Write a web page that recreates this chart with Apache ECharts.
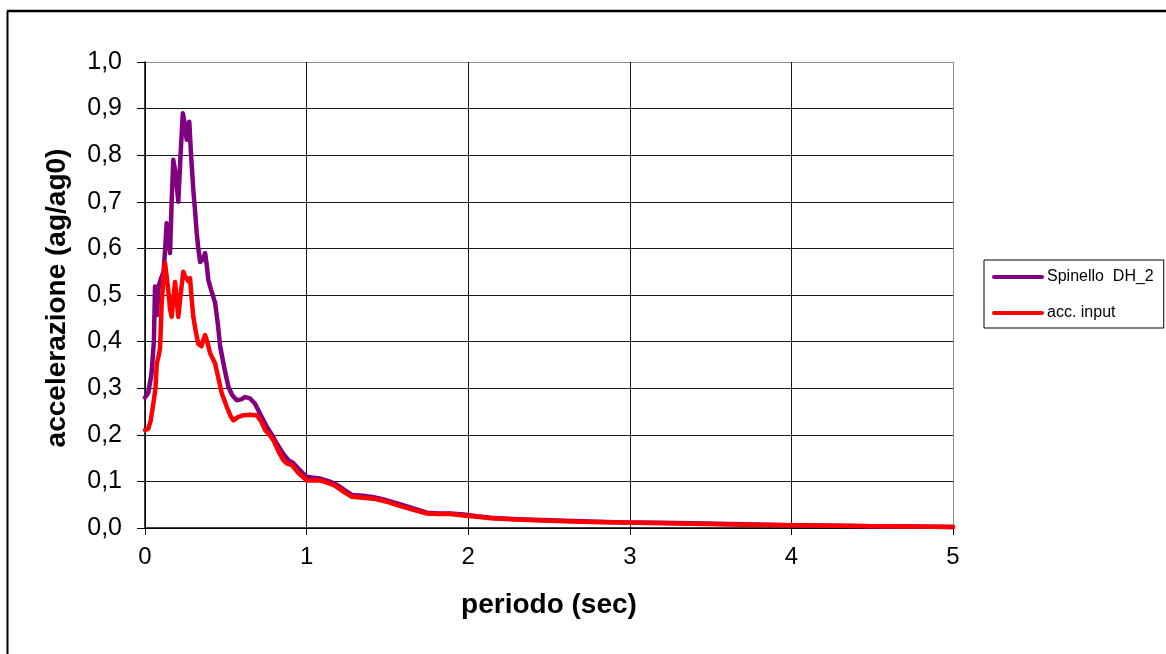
<!DOCTYPE html>
<html>
<head>
<meta charset="utf-8">
<script src="https://cdn.jsdelivr.net/npm/echarts@6/dist/echarts.min.js"></script>
<style>
html,body{margin:0;padding:0;background:#fff;}
#chart{width:1166px;height:654px;}
</style>
</head>
<body>
<div id="chart"></div>
<script>
// Data
const seriesNames = ['Spinello  DH_2', 'acc. input'];
const xTicks = [0, 1, 2, 3, 4, 5];
const yTicks = [0, 0.1, 0.2, 0.3, 0.4, 0.5, 0.6, 0.7, 0.8, 0.9, 1.0];

const periodSpinello = [0, 0.02, 0.04, 0.055, 0.062, 0.068, 0.074, 0.085, 0.103, 0.115, 0.125, 0.134, 0.145, 0.155, 0.165, 0.175, 0.19, 0.206, 0.22, 0.234, 0.245, 0.258, 0.266, 0.274, 0.285, 0.299, 0.31, 0.32, 0.33, 0.341, 0.355, 0.372, 0.382, 0.392, 0.41, 0.434, 0.45, 0.465, 0.49, 0.516, 0.54, 0.568, 0.595, 0.62, 0.65, 0.68, 0.72, 0.754, 0.785, 0.816, 0.85, 0.888, 0.915, 0.94, 0.97, 1.0, 1.04, 1.084, 1.14, 1.19, 1.24, 1.28, 1.35, 1.415, 1.49, 1.56, 1.65, 1.745, 1.82, 1.89, 1.97, 2.055, 2.14, 2.3, 2.55, 2.75, 2.96, 3.2, 3.38, 3.7, 4.0, 4.3, 4.5, 4.75, 5.0];
const accSpinello = [0.28, 0.29, 0.33, 0.40, 0.518, 0.50, 0.457, 0.52, 0.539, 0.55, 0.60, 0.654, 0.62, 0.59, 0.70, 0.79, 0.76, 0.70, 0.80, 0.89, 0.87, 0.833, 0.85, 0.872, 0.80, 0.725, 0.68, 0.633, 0.60, 0.571, 0.575, 0.59, 0.565, 0.532, 0.51, 0.483, 0.44, 0.39, 0.345, 0.303, 0.285, 0.274, 0.276, 0.281, 0.278, 0.267, 0.24, 0.217, 0.2, 0.181, 0.162, 0.145, 0.14, 0.131, 0.12, 0.11, 0.108, 0.106, 0.1, 0.092, 0.08, 0.071, 0.069, 0.066, 0.06, 0.053, 0.043, 0.033, 0.031, 0.031, 0.029, 0.025, 0.022, 0.019, 0.016, 0.014, 0.012, 0.011, 0.01, 0.008, 0.006, 0.005, 0.004, 0.003, 0.002];

const periodInput = [0, 0.02, 0.035, 0.052, 0.065, 0.073, 0.085, 0.093, 0.103, 0.115, 0.124, 0.134, 0.144, 0.155, 0.165, 0.175, 0.186, 0.196, 0.206, 0.22, 0.237, 0.248, 0.258, 0.268, 0.279, 0.289, 0.299, 0.315, 0.33, 0.35, 0.362, 0.372, 0.385, 0.403, 0.434, 0.455, 0.475, 0.506, 0.53, 0.547, 0.575, 0.609, 0.65, 0.692, 0.72, 0.744, 0.77, 0.795, 0.825, 0.857, 0.88, 0.909, 0.95, 1.0, 1.04, 1.084, 1.13, 1.17, 1.22, 1.28, 1.35, 1.415, 1.49, 1.56, 1.65, 1.745, 1.82, 1.89, 1.97, 2.055, 2.14, 2.3, 2.55, 2.75, 2.96, 3.2, 3.38, 3.7, 4.0, 4.3, 4.5, 4.75, 5.0];
const accInput = [0.21, 0.213, 0.23, 0.268, 0.30, 0.353, 0.37, 0.385, 0.48, 0.54, 0.568, 0.54, 0.51, 0.47, 0.453, 0.49, 0.528, 0.49, 0.453, 0.50, 0.55, 0.54, 0.539, 0.53, 0.536, 0.49, 0.453, 0.42, 0.395, 0.39, 0.405, 0.414, 0.40, 0.375, 0.353, 0.32, 0.289, 0.26, 0.24, 0.231, 0.238, 0.242, 0.243, 0.242, 0.228, 0.21, 0.2, 0.188, 0.165, 0.145, 0.138, 0.135, 0.118, 0.102, 0.102, 0.102, 0.097, 0.092, 0.08, 0.067, 0.065, 0.063, 0.057, 0.049, 0.04, 0.031, 0.03, 0.03, 0.027, 0.024, 0.021, 0.018, 0.015, 0.013, 0.012, 0.01, 0.009, 0.007, 0.006, 0.005, 0.004, 0.003, 0.002];

const pair = (xs, ys) => xs.map((x, i) => [x, ys[i]]);
const FONT = "'Liberation Sans', Arial, sans-serif";

const chart = echarts.init(document.getElementById('chart'), null, {renderer: 'canvas'});
const ySplitColors = yTicks.map((v, i) => i === yTicks.length - 1 ? '#8c8c8c' : '#1a1a1a');
const xSplitColors = xTicks.map((v, i) => i === xTicks.length - 1 ? '#8c8c8c' : '#1a1a1a');

chart.setOption({
  animation: false,
  backgroundColor: '#ffffff',
  grid: {left: 145, right: 213, top: 62, bottom: 126, containLabel: false},
  xAxis: {
    type: 'value', min: 0, max: 5, interval: 1,
    name: 'periodo (sec)', nameLocation: 'middle', nameGap: 63,
    nameTextStyle: {fontFamily: FONT, fontSize: 28, fontWeight: 'bold', color: '#000'},
    axisLine: {show: true, lineStyle: {color: '#000', width: 1.5}},
    axisTick: {show: true, inside: false, length: 7, lineStyle: {color: '#000'}},
    axisLabel: {fontFamily: FONT, fontSize: 24, color: '#000', margin: 17, formatter: v => String(v)},
    splitLine: {show: true, lineStyle: {color: xSplitColors, width: 1}}
  },
  yAxis: {
    type: 'value', min: 0, max: 1, interval: 0.1,
    axisLine: {show: true, lineStyle: {color: '#000', width: 1.5}},
    axisTick: {show: true, inside: false, length: 8, lineStyle: {color: '#000'}},
    axisLabel: {fontFamily: FONT, fontSize: 25, color: '#000', margin: 23,
      formatter: v => v.toFixed(1).replace('.', ',')},
    splitLine: {show: true, lineStyle: {color: ySplitColors, width: 1}}
  },
  legend: {
    orient: 'vertical', left: 984, top: 260,
    padding: [9, 10, 7, 8], itemGap: 20, itemWidth: 48, itemHeight: 16,
    borderColor: '#000', borderWidth: 1, backgroundColor: '#fff',
    itemStyle: {opacity: 0},
    lineStyle: {width: 4},
    textStyle: {fontFamily: FONT, fontSize: 16, color: '#000'},
    data: seriesNames
  },
  graphic: [
    {type: 'text', x: 57, y: 298, rotation: Math.PI / 2,
      style: {text: 'accelerazione (ag/ag0)', fill: '#000', font: 'bold 28px ' + FONT, align: 'center', verticalAlign: 'middle'}},
    {type: 'line', shape: {x1: 7, y1: 11, x2: 1166, y2: 11}, style: {stroke: '#000', lineWidth: 2.5}},
    {type: 'line', shape: {x1: 7.5, y1: 11, x2: 7.5, y2: 654}, style: {stroke: '#000', lineWidth: 2}}
  ],
  series: [
    {name: seriesNames[0], type: 'line', showSymbol: false, symbol: 'none',
      data: pair(periodSpinello, accSpinello),
      lineStyle: {color: '#800080', width: 4.5, join: 'round', cap: 'round'}, itemStyle: {color: '#800080'}},
    {name: seriesNames[1], type: 'line', showSymbol: false, symbol: 'none',
      data: pair(periodInput, accInput),
      lineStyle: {color: '#ff0000', width: 4.5, join: 'round', cap: 'round'}, itemStyle: {color: '#ff0000'}}
  ]
});
</script>
</body>
</html>
